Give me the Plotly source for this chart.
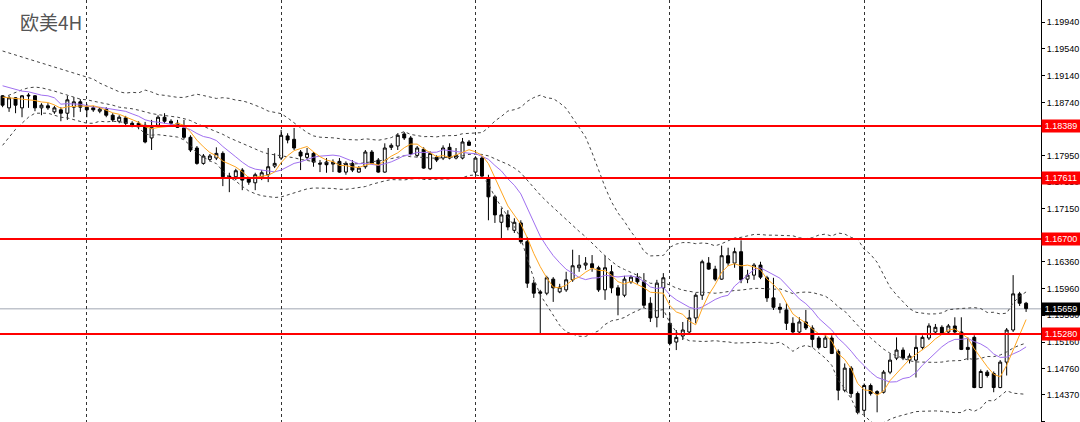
import numpy as np
import pandas as pd
import plotly.graph_objects as go

# ---------------- data (EURUSD 4H) ----------------
opens = [1.1884,1.1866,1.1881,1.1866,1.1885,1.1884,1.1866,1.1869,1.1860,1.1863,
1.1858,1.1867,1.1875,1.1867,1.1866,1.1861,1.1864,1.1855,1.1846,1.1851,
1.1843,1.1843,1.1840,1.1821,1.1840,1.1852,1.1846,1.1843,1.1836,1.1822,
1.1806,1.1783,1.1789,1.1791,1.1798,1.1764,1.1763,1.1773,1.1760,1.1754,
1.1763,1.1766,1.1779,1.1791,1.1824,1.1819,1.1800,1.1792,1.1798,1.1783,
1.1785,1.1785,1.1786,1.1770,1.1783,1.1770,1.1778,1.1800,1.1788,1.1770,
1.1807,1.1809,1.1827,1.1821,1.1795,1.1804,1.1775,1.1792,1.1791,1.1807,
1.1791,1.1791,1.1815,1.1770,1.1791,1.1761,1.1733,1.1695,1.1706,1.1683,
1.1694,1.1666,1.1604,1.1591,1.1589,1.1610,1.1591,1.1594,1.1609,1.1627,
1.1631,1.1633,1.1627,1.1594,1.1621,1.1597,1.1586,1.1606,1.1613,1.1606,
1.1574,1.1553,1.1597,1.1544,1.1516,1.1525,1.1531,1.1552,1.1586,1.1634,
1.1625,1.1610,1.1645,1.1634,1.1651,1.1610,1.1616,1.1631,1.1612,1.1582,
1.1568,1.1564,1.1544,1.1531,1.1546,1.1537,1.1522,1.1508,1.1522,1.1502,
1.1444,1.1477,1.1439,1.1414,1.1451,1.1439,1.1441,1.1471,1.1492,1.1504,
1.1489,1.1489,1.1508,1.1522,1.1531,1.1538,1.1531,1.1540,1.1531,1.1508,
1.1523,1.1448,1.1471,1.1469,1.1448,1.1486,1.1534,1.1588,1.1574]

highs = [1.1885,1.1884,1.1882,1.1885,1.1888,1.1885,1.1873,1.1873,1.1869,1.1867,
1.1884,1.1882,1.1879,1.1872,1.1869,1.1867,1.1867,1.1858,1.1855,1.1854,
1.1846,1.1846,1.1845,1.1848,1.1855,1.1858,1.1849,1.1848,1.1848,1.1825,
1.1809,1.1797,1.1797,1.1807,1.1801,1.1769,1.1775,1.1776,1.1763,1.1769,
1.1773,1.1806,1.1798,1.1833,1.1828,1.1836,1.1803,1.1806,1.1800,1.1788,
1.1791,1.1789,1.1791,1.1786,1.1788,1.1779,1.1803,1.1803,1.1791,1.1813,
1.1813,1.1828,1.1830,1.1824,1.1809,1.1807,1.1801,1.1795,1.1810,1.1813,
1.1806,1.1821,1.1818,1.1792,1.1794,1.1766,1.1736,1.1716,1.1713,1.1701,
1.1698,1.1673,1.1609,1.1594,1.1615,1.1613,1.1603,1.1621,1.1654,1.1646,
1.1643,1.1646,1.1630,1.1645,1.1631,1.1601,1.1615,1.1616,1.1619,1.1619,
1.1583,1.1609,1.1619,1.1559,1.1534,1.1546,1.1564,1.1589,1.1639,1.1643,
1.1630,1.1660,1.1657,1.1657,1.1668,1.1624,1.1634,1.1636,1.1615,1.1612,
1.1574,1.1574,1.1553,1.1553,1.1564,1.1541,1.1525,1.1526,1.1526,1.1505,
1.1484,1.1480,1.1442,1.1454,1.1454,1.1444,1.1474,1.1499,1.1523,1.1508,
1.1499,1.1526,1.1526,1.1544,1.1543,1.1541,1.1543,1.1553,1.1553,1.1523,
1.1526,1.1475,1.1474,1.1472,1.1489,1.1537,1.1616,1.1591,1.1576]

lows = [1.1867,1.1860,1.1858,1.1852,1.1866,1.1861,1.1855,1.1863,1.1857,1.1846,
1.1848,1.1852,1.1860,1.1852,1.1860,1.1858,1.1852,1.1845,1.1843,1.1840,
1.1837,1.1834,1.1813,1.1803,1.1837,1.1843,1.1840,1.1836,1.1819,1.1800,
1.1781,1.1781,1.1786,1.1788,1.1749,1.1740,1.1758,1.1743,1.1751,1.1743,
1.1758,1.1755,1.1776,1.1788,1.1813,1.1803,1.1773,1.1788,1.1778,1.1770,
1.1769,1.1770,1.1769,1.1766,1.1770,1.1769,1.1775,1.1782,1.1769,1.1769,
1.1803,1.1803,1.1818,1.1795,1.1792,1.1775,1.1773,1.1785,1.1788,1.1789,
1.1789,1.1789,1.1809,1.1766,1.1761,1.1698,1.1694,1.1670,1.1683,1.1679,
1.1663,1.1597,1.1582,1.1528,1.1586,1.1576,1.1589,1.1591,1.1606,1.1621,
1.1624,1.1621,1.1591,1.1579,1.1589,1.1556,1.1583,1.1603,1.1603,1.1567,
1.1546,1.1538,1.1552,1.1511,1.1504,1.1519,1.1528,1.1544,1.1579,1.1624,
1.1607,1.1609,1.1630,1.1627,1.1604,1.1604,1.1609,1.1610,1.1576,1.1564,
1.1559,1.1534,1.1529,1.1529,1.1534,1.1508,1.1505,1.1507,1.1498,1.1429,
1.1441,1.1433,1.1408,1.1408,1.1436,1.1411,1.1439,1.1468,1.1489,1.1489,
1.1484,1.1463,1.1504,1.1519,1.1529,1.1528,1.1529,1.1529,1.1504,1.1489,
1.1447,1.1447,1.1463,1.1441,1.1447,1.1466,1.1531,1.1570,1.1561]

closes = [1.1870,1.1881,1.1870,1.1884,1.1884,1.1866,1.1870,1.1866,1.1866,1.1858,
1.1878,1.1875,1.1867,1.1863,1.1863,1.1864,1.1855,1.1848,1.1852,1.1843,
1.1840,1.1839,1.1815,1.1837,1.1852,1.1846,1.1843,1.1837,1.1822,1.1803,
1.1783,1.1794,1.1794,1.1798,1.1763,1.1761,1.1772,1.1758,1.1755,1.1766,
1.1769,1.1778,1.1783,1.1825,1.1818,1.1806,1.1794,1.1798,1.1785,1.1782,
1.1781,1.1782,1.1770,1.1783,1.1773,1.1776,1.1800,1.1783,1.1770,1.1806,
1.1810,1.1825,1.1821,1.1797,1.1806,1.1776,1.1798,1.1788,1.1806,1.1791,
1.1795,1.1815,1.1810,1.1791,1.1764,1.1733,1.1706,1.1706,1.1688,1.1695,
1.1666,1.1604,1.1589,1.1589,1.1612,1.1597,1.1598,1.1609,1.1630,1.1631,
1.1634,1.1627,1.1594,1.1627,1.1597,1.1586,1.1610,1.1613,1.1606,1.1571,
1.1552,1.1604,1.1612,1.1514,1.1523,1.1534,1.1552,1.1586,1.1636,1.1625,
1.1610,1.1645,1.1634,1.1651,1.1609,1.1616,1.1631,1.1613,1.1582,1.1568,
1.1565,1.1544,1.1531,1.1546,1.1537,1.1520,1.1508,1.1522,1.1499,1.1444,
1.1477,1.1439,1.1411,1.1451,1.1439,1.1442,1.1471,1.1489,1.1504,1.1492,
1.1495,1.1508,1.1523,1.1540,1.1538,1.1529,1.1540,1.1531,1.1505,1.1505,
1.1448,1.1472,1.1466,1.1448,1.1486,1.1534,1.1588,1.1574,1.1566]

# indicator values visible at the left edge (history before the first bar is off-chart)
ma_fast_head = [1.1882, 1.1881, 1.1879, 1.1878]
ma_slow_head = [1.1899, 1.1896, 1.1893, 1.1891, 1.1890, 1.1887, 1.1885, 1.1884, 1.1881]
bb_upper_head = [1.1951,1.1948,1.1945,1.1942,1.1939,1.1936,1.1933,1.1930,1.1927,1.1924,
                 1.1920,1.1917,1.1914,1.1912,1.1909,1.1903,1.1899,1.1894,1.1890]
bb_mid_head = [1.1881,1.1885,1.1890,1.1893,1.1896,1.1897,1.1896,1.1894,1.1891,1.1888,
               1.1885,1.1882,1.1879,1.1878,1.1876,1.1875,1.1872,1.1870,1.1867]
bb_lower_head = [1.1810,1.1822,1.1834,1.1843,1.1852,1.1858,1.1858,1.1858,1.1855,1.1852,
                 1.1851,1.1848,1.1845,1.1843,1.1843,1.1846,1.1845,1.1846,1.1845]

level_lines = [1.18389, 1.17611, 1.16700, 1.15280]
bid_price = 1.15659
ytick_vals = [1.19940, 1.19540, 1.19140, 1.18740, 1.18340, 1.17950, 1.17550, 1.17150,
              1.16750, 1.16360, 1.15960, 1.15560, 1.15160, 1.14760, 1.14370, 1.13970]
separator_bars = [13, 43, 73, 103, 133]
title_text = "欧美4H"

# ---------------- indicators ----------------
n = len(closes)
idx = list(range(n))
c = pd.Series(closes)
ma_fast = c.rolling(5).mean()
ma_slow = c.rolling(10).mean()
bb_mid = c.rolling(20).mean()
bb_std = c.rolling(20).std(ddof=0)
bb_up = bb_mid + 2 * bb_std
bb_lo = bb_mid - 2 * bb_std
ma_fast.iloc[:len(ma_fast_head)] = ma_fast_head
ma_slow.iloc[:len(ma_slow_head)] = ma_slow_head
bb_mid.iloc[:len(bb_mid_head)] = bb_mid_head
bb_up.iloc[:len(bb_upper_head)] = bb_upper_head
bb_lo.iloc[:len(bb_lower_head)] = bb_lower_head

fig = go.Figure()

band_style = dict(color="#444444", width=1, dash="3px,3px")
for s in (bb_up, bb_mid, bb_lo):
    fig.add_trace(go.Scatter(x=idx, y=s, mode="lines", line=band_style,
                             hoverinfo="skip", showlegend=False))

fig.add_trace(go.Candlestick(
    x=idx, open=opens, high=highs, low=lows, close=closes,
    increasing=dict(line=dict(color="#000000", width=1), fillcolor="#FFFFFF"),
    decreasing=dict(line=dict(color="#000000", width=1), fillcolor="#000000"),
    whiskerwidth=0, showlegend=False))

fig.add_trace(go.Scatter(x=idx, y=ma_slow, mode="lines",
                         line=dict(color="#A070F0", width=1), showlegend=False))
fig.add_trace(go.Scatter(x=idx, y=ma_fast, mode="lines",
                         line=dict(color="#FFA620", width=1), showlegend=False))

shapes = []
for lv in level_lines:
    shapes.append(dict(type="line", xref="paper", x0=0, x1=1, yref="y", y0=lv, y1=lv,
                       line=dict(color="#FF0000", width=2), layer="above"))
shapes.append(dict(type="line", xref="paper", x0=0, x1=1, yref="y", y0=bid_price, y1=bid_price,
                   line=dict(color="#C0C4CC", width=1.5), layer="below"))

annotations = []
for lv in level_lines:
    annotations.append(dict(x=1, xref="paper", xanchor="left", y=lv, yref="y",
                            text=f"{lv:.5f}", showarrow=False, bgcolor="#FF0000",
                            font=dict(color="#FFFFFF", size=9, family="Liberation Sans"),
                            borderpad=1, width=36, align="center"))
annotations.append(dict(x=1, xref="paper", xanchor="left", y=bid_price, yref="y",
                        text=f"{bid_price:.5f}", showarrow=False, bgcolor="#000000",
                        font=dict(color="#FFFFFF", size=9, family="Liberation Sans"),
                        borderpad=1, width=36, align="center"))
annotations.append(dict(x=18 / 1041, xref="paper", xanchor="left", y=1 - 22 / 422, yref="paper",
                        yanchor="middle", text=title_text, showarrow=False,
                        font=dict(color="#555555", size=19, family="Noto Sans CJK SC")))

fig.update_layout(
    width=1080, height=422,
    margin=dict(l=0, r=39, t=0, b=0),
    paper_bgcolor="#FFFFFF", plot_bgcolor="#FFFFFF",
    shapes=shapes, annotations=annotations,
    boxgap=0.35,
    hovermode=False,
    xaxis=dict(range=[-0.40, 160.3], rangeslider=dict(visible=False),
               tickvals=separator_bars, showticklabels=False, ticks="",
               showgrid=True, gridcolor="#333333", gridwidth=1, griddash="dot",
               zeroline=False, showline=False),
    yaxis=dict(range=[1.13965, 1.20272], side="right", tickvals=ytick_vals,
               ticktext=[f"{v:.5f}" for v in ytick_vals], ticks="outside", ticklen=3,
               tickcolor="#000000", showline=True, linecolor="#000000", linewidth=1,
               showgrid=False, zeroline=False,
               tickfont=dict(size=9, color="#000000", family="Liberation Sans")),
)

fig.write_html("out.html", config={"displayModeBar": False},
               post_script="document.body.style.margin='0';document.body.style.padding='0';")
